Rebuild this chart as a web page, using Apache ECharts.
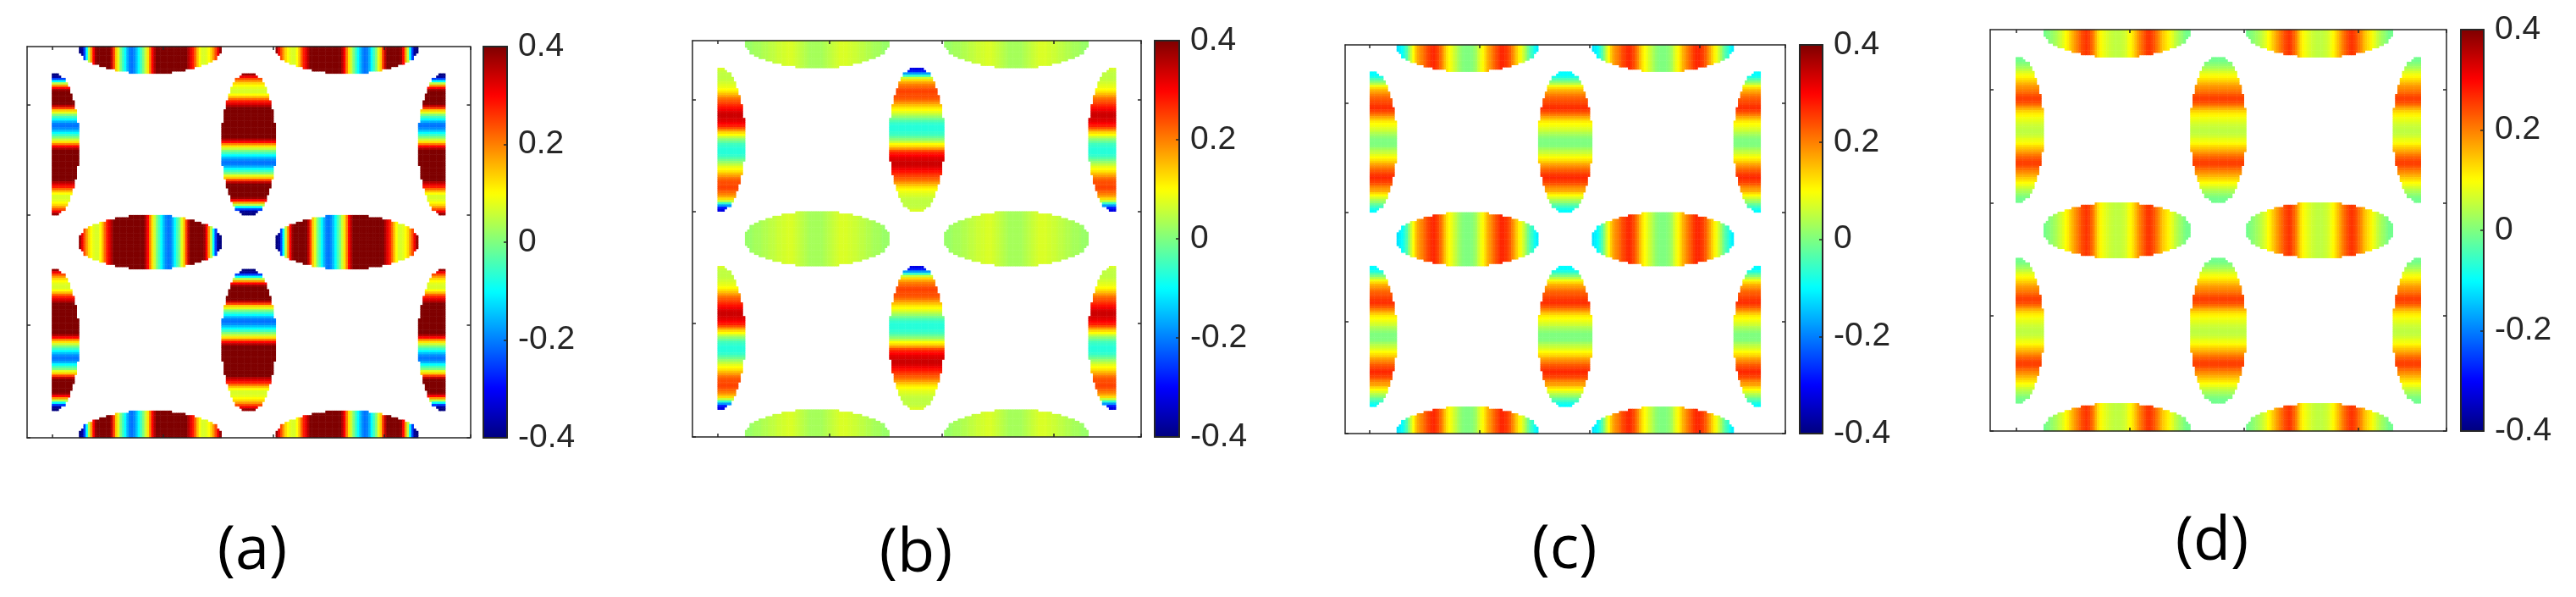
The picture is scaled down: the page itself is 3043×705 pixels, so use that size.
<!DOCTYPE html>
<html lang="en">
<head>
<meta charset="UTF-8">
<title>(a) (b) (c) (d)</title>
<script src="https://cdn.jsdelivr.net/npm/echarts@6/dist/echarts.min.js"></script>
<style>html,body{margin:0;padding:0;background:#fff}</style>
</head>
<body>
<div id="box" style="width:3043px;height:705px;"></div>
<script>
// values read along the long axis of each ellipse, one per cell
var aVertical = [.38,.31,.24,.18,.13,.10,.08,.07,.07,.10,.15,.22,.28,.32,.36,.40,.40,.40,.40,.40,.40,.40,.40,.40,.40,.40,.40,.40,.40,.36,.30,.20,.12,.06,0,-.05,-.10,-.15,-.19,-.21,-.20,-.16,-.10,-.05,0,.08,.14,.25,.35,.40,.40,.40,.40,.40,.40,.38,.30,.18,.05,-.10,-.25,-.38,-.40];
var bVertical = [-.32,-.28,-.18,-.06,.06,.13,.17,.20,.22,.24,.25,.24,.24,.23,.21,.18,.15,.12,.10,.08,.05,.02,-.01,-.04,-.06,-.07,-.07,-.07,-.06,-.05,-.02,.01,.05,.10,.13,.18,.24,.28,.30,.32,.33,.34,.34,.33,.31,.29,.27,.25,.23,.21,.18,.15,.12,.10,.085,.075,.065,.055,.05,.05,.05,.055,.07];
var bHorizontal = [.02,.02,.02,.025,.03,.03,.03,.035,.04,.04,.045,.05,.05,.055,.06,.06,.065,.065,.07,.07,.07,.065,.06,.055,.05,.045,.04,.035,.03,.03,.03,.03,.03,.03,.035,.04,.045,.05,.055,.06,.065,.07,.07,.07,.07,.065,.065,.06,.06,.055,.05,.05,.045,.04,.04,.035,.03,.03,.03,.025,.02,.02,.02];
var cVertical = [-.10,-.10,-.08,-.04,0,.04,.09,.13,.16,.18,.20,.22,.23,.24,.25,.26,.265,.25,.23,.20,.17,.14,.115,.10,.09,.075,.06,.04,.025,.01,0,0,0,.005,.025,.045,.06,.08,.10,.12,.14,.17,.19,.21,.23,.245,.26,.27,.26,.25,.23,.20,.18,.17,.13,.10,.07,.04,.015,-.02,-.05,-.08,-.10];
var cHorizontal = [-.12,-.11,-.10,-.07,-.04,.01,.06,.10,.14,.17,.19,.20,.22,.24,.25,.265,.27,.26,.245,.22,.19,.15,.12,.10,.085,.065,.05,.03,.015,.005,0,0,0,.005,.015,.03,.06,.085,.105,.13,.16,.18,.20,.22,.24,.255,.27,.27,.26,.25,.23,.20,.17,.14,.11,.09,.06,.03,-.01,-.04,-.06,-.09,-.11];
var dVertical = [-.01,-.01,0,.015,.03,.05,.07,.09,.105,.12,.14,.16,.18,.19,.205,.22,.235,.25,.25,.24,.22,.19,.16,.135,.115,.105,.09,.08,.07,.06,.055,.05,.05,.055,.065,.08,.09,.105,.125,.145,.165,.185,.205,.225,.24,.25,.25,.235,.215,.195,.18,.16,.14,.12,.10,.085,.065,.045,.03,.015,0,-.01,-.01];
var dHorizontal = [-.01,0,.005,.015,.025,.035,.05,.065,.08,.10,.115,.14,.16,.18,.20,.22,.24,.25,.26,.25,.225,.20,.16,.125,.105,.09,.08,.07,.06,.055,.05,.05,.05,.055,.06,.07,.09,.105,.125,.15,.175,.20,.22,.24,.255,.26,.25,.235,.21,.19,.16,.14,.125,.11,.09,.075,.055,.04,.025,.015,0,-.01,-.01];

// half width of an ellipse in cells, from its tip to its middle (staircase)
var tipSpans = [3,4,6,6,7,7,8,8,8,9,9,9,10,10,10,10,11,11,11,11,11,11,12,12,12,12,12,12,12,12,12,12];

var panelNames = ['(a)', '(b)', '(c)', '(d)'];
var verticalProfiles = [aVertical, bVertical, cVertical, dVertical];
var horizontalProfiles = [aVertical, bHorizontal, cHorizontal, dHorizontal];
// 1 = profile runs the other way. vertical: [upper, lower] x [left, centre, right]
var verticalFlips = [
    [[1,0,1],[0,1,0]],
    [[1,0,1],[1,0,1]],
    [[0,0,0],[0,0,0]],
    [[0,0,0],[0,0,0]]
];
// horizontal: [top, middle, bottom] x [left, right]
var horizontalFlips = [
    [[1,0],[0,1],[1,0]],
    [[0,0],[0,0],[0,0]],
    [[0,0],[0,0],[0,0]],
    [[0,0],[0,0],[0,0]]
];
var colorbarTicks = [-0.4, 0.4];

// lattice, in cells
var columnCount = 196, rowCount = 174;
var verticalCols = [11, 98, 185];
var verticalRows = [12, 99];
var horizontalCols = [23, 110];
var horizontalRows = [0, 87, 174];
var xTickCells = [11, 60, 109, 158];
var yTickCells = [26, 75, 124];

// layout, in pixels
var plotBoxes = [
    {left: 32, top: 55, width: 523.5, height: 462},
    {left: 818, top: 48, width: 530, height: 468},
    {left: 1589, top: 53, width: 520, height: 459},
    {left: 2351, top: 35, width: 539, height: 474}
];
var barBoxes = [
    {left: 571, top: 55, width: 28, height: 462},
    {left: 1364, top: 48, width: 29, height: 468},
    {left: 2126, top: 53, width: 27, height: 459},
    {left: 2907, top: 35, width: 27, height: 474}
];
var titleSpots = [[298, 651], [1082, 654], [1848, 650], [2613, 640]];

var jet = ['#00007f', '#0000ff', '#007fff', '#00ffff', '#7fff7f', '#ffff00', '#ff7f00', '#ff0000', '#7f0000'];
var lineColor = '#262626';

var columns = [], rows = [];
for (var i = 0; i < columnCount; i++) columns.push(i);
for (var i = 0; i < rowCount; i++) rows.push(i);

function spanAt(t) {
    return tipSpans[t < 32 ? t : 62 - t];
}

function buildCells(p) {
    var cells = [];
    verticalRows.forEach(function (row0, r) {
        verticalCols.forEach(function (cx, c) {
            var flip = verticalFlips[p][r][c];
            for (var t = 0; t < 63; t++) {
                var v = verticalProfiles[p][flip ? 62 - t : t];
                var half = spanAt(t);
                for (var col = cx - half; col < cx + half; col++) {
                    if (col < verticalCols[0] || col >= verticalCols[2]) continue;
                    cells.push([col, row0 + t, v]);
                }
            }
        });
    });
    horizontalRows.forEach(function (cy, r) {
        horizontalCols.forEach(function (col0, c) {
            var flip = horizontalFlips[p][r][c];
            for (var t = 0; t < 63; t++) {
                var v = horizontalProfiles[p][flip ? 62 - t : t];
                var half = spanAt(t);
                for (var row = cy - half; row < cy + half; row++) {
                    if (row < 0 || row >= rowCount) continue;
                    cells.push([col0 + t, row, v]);
                }
            }
        });
    });
    return cells;
}

function plotAxis(list, position, gridIndex, ticks) {
    return {
        type: 'category',
        data: list,
        gridIndex: gridIndex,
        position: position,
        inverse: position === 'left' || position === 'right',
        axisLine: {show: true, lineStyle: {color: lineColor, width: 1.5}},
        axisTick: {
            show: true,
            inside: true,
            length: 4,
            lineStyle: {color: lineColor, width: 1.5},
            interval: function (index) { return ticks.indexOf(index) >= 0; }
        },
        axisLabel: {show: false},
        splitLine: {show: false},
        z: 5
    };
}

var grids = [], xAxes = [], yAxes = [], seriesList = [], visualMaps = [], titles = [];

panelNames.forEach(function (name, p) {
    var plotGrid = grids.length;
    grids.push(plotBoxes[p]);
    var barGrid = grids.length;
    grids.push(barBoxes[p]);

    // first pair on each grid carries the heatmap, second pair closes the box
    var xIndex = xAxes.length, yIndex = yAxes.length;
    xAxes.push(plotAxis(columns, 'bottom', plotGrid, xTickCells));
    xAxes.push(plotAxis(columns, 'top', plotGrid, xTickCells));
    yAxes.push(plotAxis(rows, 'left', plotGrid, yTickCells));
    yAxes.push(plotAxis(rows, 'right', plotGrid, yTickCells));

    seriesList.push({
        type: 'heatmap',
        name: name,
        xAxisIndex: xIndex,
        yAxisIndex: yIndex,
        data: buildCells(p),
        progressive: 0,
        emphasis: {disabled: true},
        itemStyle: {borderWidth: 0}
    });

    visualMaps.push({
        type: 'continuous',
        seriesIndex: p,
        min: colorbarTicks[0],
        max: colorbarTicks[1],
        inRange: {color: jet},
        left: barBoxes[p].left,
        top: barBoxes[p].top,
        itemWidth: barBoxes[p].width,
        itemHeight: barBoxes[p].height,
        padding: 0,
        calculable: false,
        hoverLink: false,
        showLabel: false,
        text: null,
        z: 2
    });

    // colorbar frame and scale
    ['bottom', 'top'].forEach(function (pos) {
        xAxes.push({
            type: 'value', gridIndex: barGrid, position: pos, min: 0, max: 1,
            axisLine: {show: true, onZero: false, lineStyle: {color: lineColor, width: 2}},
            axisTick: {show: false}, axisLabel: {show: false}, splitLine: {show: false}, z: 5
        });
    });
    yAxes.push({
        type: 'value', gridIndex: barGrid, position: 'right',
        min: colorbarTicks[0], max: colorbarTicks[1], interval: 0.2,
        axisLine: {show: true, onZero: false, lineStyle: {color: lineColor, width: 2}},
        axisTick: {show: true, inside: true, length: 4, lineStyle: {color: lineColor, width: 1.5}},
        axisLabel: {
            show: true, margin: 13, align: 'left', color: lineColor, fontSize: 39,
            fontFamily: 'Liberation Sans',
            formatter: function (v) { return String(Math.round(v * 10) / 10); }
        },
        splitLine: {show: false}, z: 5
    });
    yAxes.push({
        type: 'value', gridIndex: barGrid, position: 'left',
        min: colorbarTicks[0], max: colorbarTicks[1], interval: 0.2,
        axisLine: {show: true, onZero: false, lineStyle: {color: lineColor, width: 2}},
        axisTick: {show: false}, axisLabel: {show: false}, splitLine: {show: false}, z: 5
    });

    titles.push({
        text: name,
        left: titleSpots[p][0],
        top: titleSpots[p][1],
        textAlign: 'center',
        textVerticalAlign: 'middle',
        padding: 0,
        textStyle: {fontFamily: 'Open Sans', fontWeight: 'normal', fontSize: 72, color: '#000'}
    });
});

var myChart = echarts.init(document.getElementById('box'));
myChart.setOption({
    animation: false,
    backgroundColor: '#fff',
    title: titles,
    grid: grids,
    xAxis: xAxes,
    yAxis: yAxes,
    visualMap: visualMaps,
    series: seriesList
});
</script>
</body>
</html>
